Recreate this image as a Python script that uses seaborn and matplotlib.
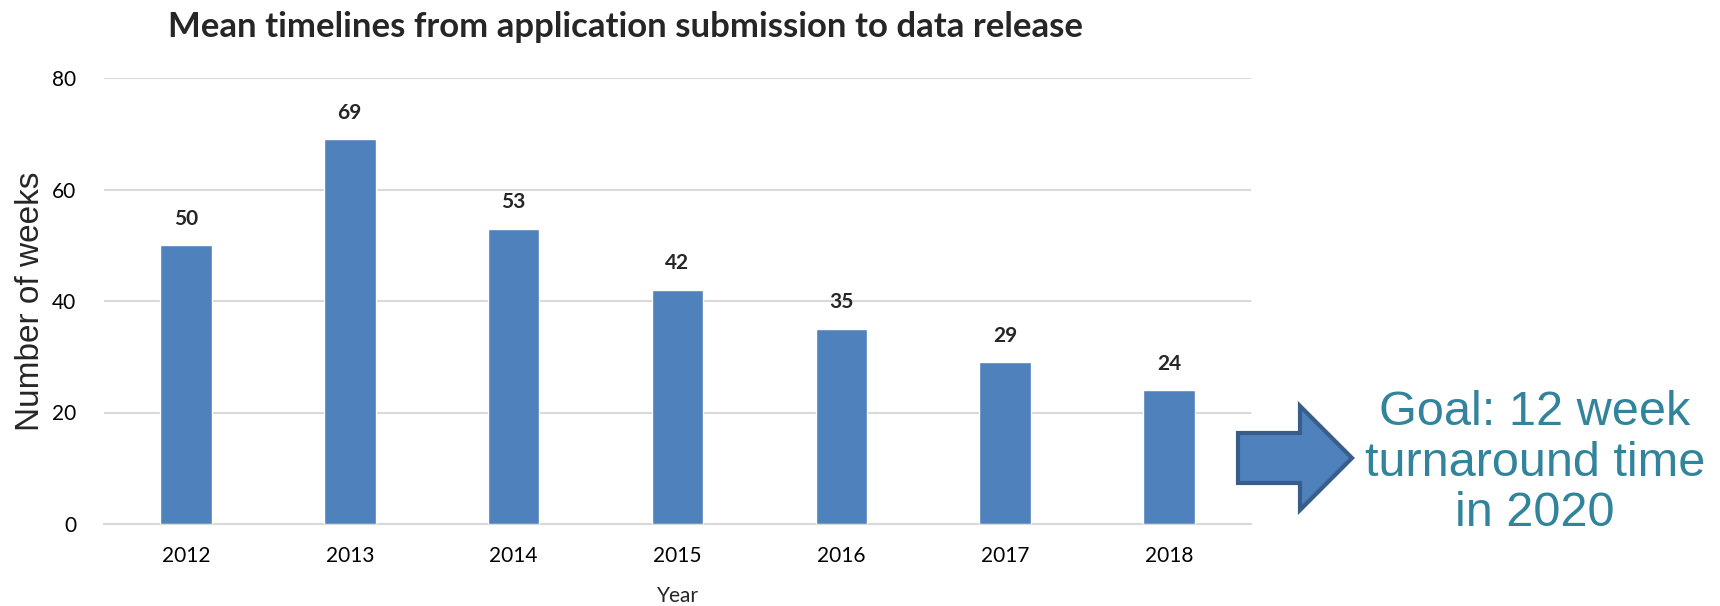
import matplotlib
matplotlib.use("Agg")
import matplotlib.pyplot as plt
import seaborn as sns
import pandas as pd
from matplotlib.patches import Polygon

years = ["2012", "2013", "2014", "2015", "2016", "2017", "2018"]
weeks = [50, 69, 53, 42, 35, 29, 24]
y_ticks = [0, 20, 40, 60, 80]

title = "Mean timelines from application submission to data release"
goal_text = "Goal: 12 week\nturnaround time\nin 2020"

sns.set_theme(style="white")
plt.rcParams['font.family'] = ['Lato', 'DejaVu Sans']

df = pd.DataFrame({"Year": years, "Weeks": weeks})

fig = plt.figure(figsize=(17.2, 6.06), dpi=100)
ax = fig.add_axes([104/1720, 1 - 524/606, (1251-104)/1720, (524-78)/606])

sns.barplot(data=df, x="Year", y="Weeks", color="#4F81BD", width=0.315,
            saturation=1, ax=ax, zorder=3)

ax.set_ylim(0, 80)
ax.set_yticks(y_ticks)
ax.set_xlim(-0.5, len(years) - 0.5)
ax.yaxis.grid(True, color="#D9D9D9", linewidth=1.5, zorder=0)
ax.xaxis.grid(False)
for s in ["top", "right", "left"]:
    ax.spines[s].set_visible(False)
ax.spines["bottom"].set_color("#D9D9D9")
ax.spines["bottom"].set_linewidth(1.5)
ax.tick_params(axis="both", length=0, labelsize=15, colors="black")
ax.tick_params(axis="x", pad=16)
ax.tick_params(axis="y", pad=20)

for i, v in enumerate(weeks):
    ax.annotate(str(v), (i, v), xytext=(0, 12), textcoords="offset points",
                ha="center", va="bottom", fontsize=15, fontweight="bold")

ax.set_xlabel("Year", fontsize=15, labelpad=14)
ax.set_ylabel("Number of weeks", fontsize=24, family="Liberation Sans", labelpad=4)

fig.text(625/1720, 1 - 27/606, title, ha="center", va="center",
         fontsize=25, fontweight="bold")

# arrow decoration
W, H = 1720, 606
pts = [(1238, 433), (1300, 433), (1300, 406), (1352, 458),
       (1300, 510), (1300, 483), (1238, 483)]
poly = Polygon([(x / W, 1 - y / H) for x, y in pts], closed=True,
               transform=fig.transFigure, facecolor="#4F81BD",
               edgecolor="#385D8A", linewidth=3, joinstyle="miter")
fig.patches.append(poly)

fig.text(1535/1720, 1 - 463/606, goal_text, ha="center", va="center",
         fontsize=35, color="#31849B", family="Liberation Sans",
         linespacing=1.17)

fig.savefig("out.png", dpi=100, facecolor="white")
